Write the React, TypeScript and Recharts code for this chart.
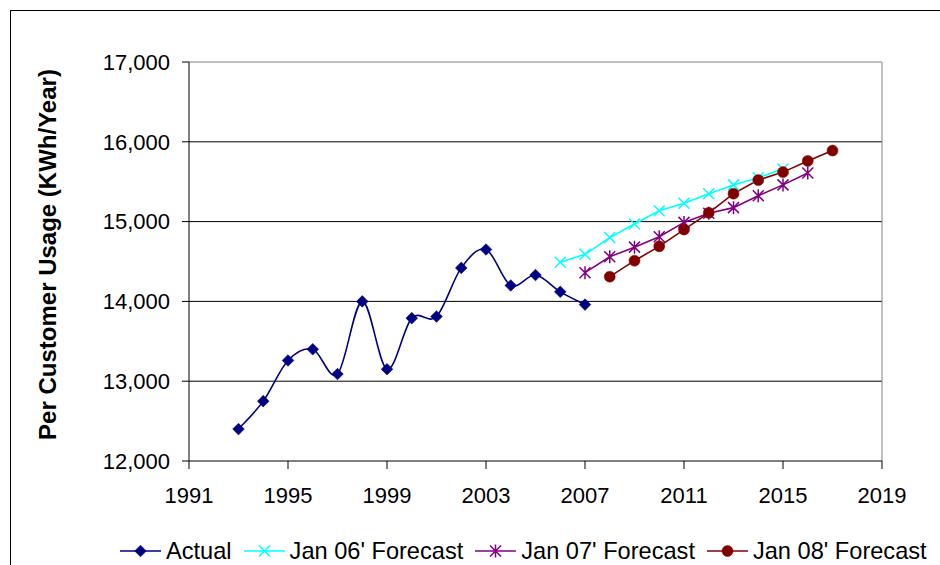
import {
  LineChart,
  Line,
  XAxis,
  YAxis,
  CartesianGrid,
  ReferenceLine,
  Legend,
  Label,
} from "recharts";

const FONT = "'Liberation Sans', Arial, sans-serif";

// Annual usage per customer (kWh/year)
const actualYears = [1993, 1994, 1995, 1996, 1997, 1998, 1999, 2000, 2001, 2002, 2003, 2004, 2005, 2006, 2007];
const actualUsage = [12400, 12750, 13260, 13400, 13090, 14000, 13150, 13790, 13810, 14420, 14650, 14200, 14330, 14120, 13960];

const jan06Years = [2006, 2007, 2008, 2009, 2010, 2011, 2012, 2013, 2014, 2015];
const jan06Usage = [14490, 14590, 14800, 14970, 15135, 15230, 15350, 15460, 15550, 15660];

const jan07Years = [2007, 2008, 2009, 2010, 2011, 2012, 2013, 2014, 2015, 2016];
const jan07Usage = [14360, 14560, 14680, 14810, 14990, 15105, 15175, 15325, 15460, 15610];

const jan08Years = [2008, 2009, 2010, 2011, 2012, 2013, 2014, 2015, 2016, 2017];
const jan08Usage = [14310, 14510, 14690, 14900, 15110, 15350, 15520, 15620, 15760, 15890];

const xTicks = [1991, 1995, 1999, 2003, 2007, 2011, 2015, 2019];
const yTicks = [12000, 13000, 14000, 15000, 16000, 17000];

const toRows = (years: number[], values: number[]) =>
  years.map((year, i) => ({ year, usage: values[i] }));

const NAVY = "#000080";
const CYAN = "#00FFFF";
const PURPLE = "#800080";
const MAROON = "#800000";

/**
 * Spreadsheet-style smoothed line: cubic bezier through every point,
 * control points at 1/6 of the neighbour span (Catmull-Rom).
 */
function smoothCurve(context: any) {
  let pts: number[][] = [];
  return {
    areaStart() {},
    areaEnd() {},
    lineStart() {
      pts = [];
    },
    point(x: number, y: number) {
      pts.push([+x, +y]);
    },
    lineEnd() {
      const n = pts.length;
      if (!n) return;
      context.moveTo(pts[0][0], pts[0][1]);
      for (let i = 0; i < n - 1; i++) {
        const p0 = pts[Math.max(i - 1, 0)];
        const p1 = pts[i];
        const p2 = pts[i + 1];
        const p3 = pts[Math.min(i + 2, n - 1)];
        context.bezierCurveTo(
          p1[0] + (p2[0] - p0[0]) / 6,
          p1[1] + (p2[1] - p0[1]) / 6,
          p2[0] - (p3[0] - p1[0]) / 6,
          p2[1] - (p3[1] - p1[1]) / 6,
          p2[0],
          p2[1]
        );
      }
    },
  };
}

// Marker shapes
function markerPath(kind: string, cx: number, cy: number, color: string, key?: string) {
  if (kind === "diamond") {
    const s = 5.8;
    return (
      <path
        key={key}
        d={`M${cx},${cy - s}L${cx + s},${cy}L${cx},${cy + s}L${cx - s},${cy}Z`}
        fill={color}
        stroke={color}
        strokeWidth={0.6}
      />
    );
  }
  if (kind === "cross") {
    const s = 5.5;
    return (
      <path
        key={key}
        d={`M${cx - s},${cy - s}L${cx + s},${cy + s}M${cx - s},${cy + s}L${cx + s},${cy - s}`}
        stroke={color}
        strokeWidth={1.5}
        fill="none"
      />
    );
  }
  if (kind === "star") {
    const s = 5.5;
    return (
      <path
        key={key}
        d={`M${cx - s},${cy - s}L${cx + s},${cy + s}M${cx - s},${cy + s}L${cx + s},${cy - s}M${cx},${cy - s - 1}L${cx},${cy + s + 1}`}
        stroke={color}
        strokeWidth={1.5}
        fill="none"
      />
    );
  }
  return <circle key={key} cx={cx} cy={cy} r={5.5} fill={color} stroke={color} strokeWidth={0.5} />;
}

const makeDot = (kind: string, color: string) => (props: any) =>
  markerPath(kind, props.cx, props.cy, color, `${kind}-${props.index}`);

const markerByName: Record<string, string> = {
  Actual: "diamond",
  "Jan 06' Forecast": "cross",
  "Jan 07' Forecast": "star",
  "Jan 08' Forecast": "circle",
};

function renderLegend(props: any) {
  const { payload = [] } = props;
  return (
    <div
      style={{
        display: "flex",
        alignItems: "center",
        height: 28,
        paddingLeft: 120,
        fontFamily: FONT,
        fontSize: 23.6,
        color: "#000",
        whiteSpace: "nowrap",
      }}
    >
      {payload.map((entry: any) => (
        <div key={entry.value} style={{ display: "flex", alignItems: "center", marginRight: 12 }}>
          <svg width={41} height={20} style={{ display: "block" }}>
            <line x1={0} y1={10} x2={41} y2={10} stroke={entry.color} strokeWidth={1.6} />
            {markerPath(markerByName[entry.value], 20.5, 10, entry.color)}
          </svg>
          <span style={{ marginLeft: 5 }}>{entry.value}</span>
        </div>
      ))}
    </div>
  );
}

function renderYTitle(props: any) {
  const { viewBox } = props;
  const x = viewBox.x + 37;
  const y = viewBox.y + viewBox.height / 2 - 7;
  return (
    <text
      x={x}
      y={y}
      transform={`rotate(-90, ${x}, ${y})`}
      textAnchor="middle"
      dominantBaseline="central"
      fontFamily={FONT}
      fontSize={24}
      fontWeight="bold"
      fill="#000"
    >
      Per Customer Usage (KWh/Year)
    </text>
  );
}

export default function App() {
  return (
    <div
      style={{
        position: "absolute",
        left: 0,
        top: 0,
        width: 940,
        height: 565,
        overflow: "hidden",
        background: "#fff",
      }}
    >
      {/* Outer chart frame */}
      <div
        style={{
          position: "absolute",
          left: 10,
          top: 10,
          width: 960,
          height: 600,
          borderLeft: "1.5px solid #000",
          borderTop: "1.5px solid #000",
        }}
      />

      <LineChart
        width={940}
        height={565}
        margin={{ top: 62, right: 58, bottom: 46, left: 10 }}
        style={{ position: "absolute", left: 0, top: 0 }}
      >
        <CartesianGrid vertical={false} horizontalValues={[13000, 14000, 15000, 16000]} stroke="#000" strokeWidth={1} />
        <ReferenceLine y={17000} stroke="#808080" strokeWidth={1} />
        <ReferenceLine x={2019} stroke="#808080" strokeWidth={1} />

        <XAxis
          type="number"
          dataKey="year"
          domain={[1991, 2019]}
          ticks={xTicks}
          allowDataOverflow
          height={30}
          stroke="#000"
          tickSize={8}
          tickMargin={18}
          tick={{ fill: "#000", fontSize: 22, fontFamily: FONT }}
        />
        <YAxis
          type="number"
          domain={[12000, 17000]}
          ticks={yTicks}
          width={179}
          stroke="#000"
          tickSize={7}
          tickMargin={12}
          tickFormatter={(v: number) => v.toLocaleString("en-US")}
          tick={{ fill: "#000", fontSize: 22, fontFamily: FONT }}
        >
          <Label content={renderYTitle} />
        </YAxis>

        <Legend
          verticalAlign="bottom"
          content={renderLegend}
          wrapperStyle={{ left: 0, bottom: 0, width: 940 }}
        />

        <Line
          name="Actual"
          data={toRows(actualYears, actualUsage)}
          dataKey="usage"
          type={smoothCurve as any}
          stroke={NAVY}
          strokeWidth={1.6}
          dot={makeDot("diamond", NAVY)}
          activeDot={false}
          isAnimationActive={false}
        />
        <Line
          name="Jan 06' Forecast"
          data={toRows(jan06Years, jan06Usage)}
          dataKey="usage"
          type="linear"
          stroke={CYAN}
          strokeWidth={1.6}
          dot={makeDot("cross", CYAN)}
          activeDot={false}
          isAnimationActive={false}
        />
        <Line
          name="Jan 07' Forecast"
          data={toRows(jan07Years, jan07Usage)}
          dataKey="usage"
          type="linear"
          stroke={PURPLE}
          strokeWidth={1.6}
          dot={makeDot("star", PURPLE)}
          activeDot={false}
          isAnimationActive={false}
        />
        <Line
          name="Jan 08' Forecast"
          data={toRows(jan08Years, jan08Usage)}
          dataKey="usage"
          type="linear"
          stroke={MAROON}
          strokeWidth={1.6}
          dot={makeDot("circle", MAROON)}
          activeDot={false}
          isAnimationActive={false}
        />
      </LineChart>
    </div>
  );
}
